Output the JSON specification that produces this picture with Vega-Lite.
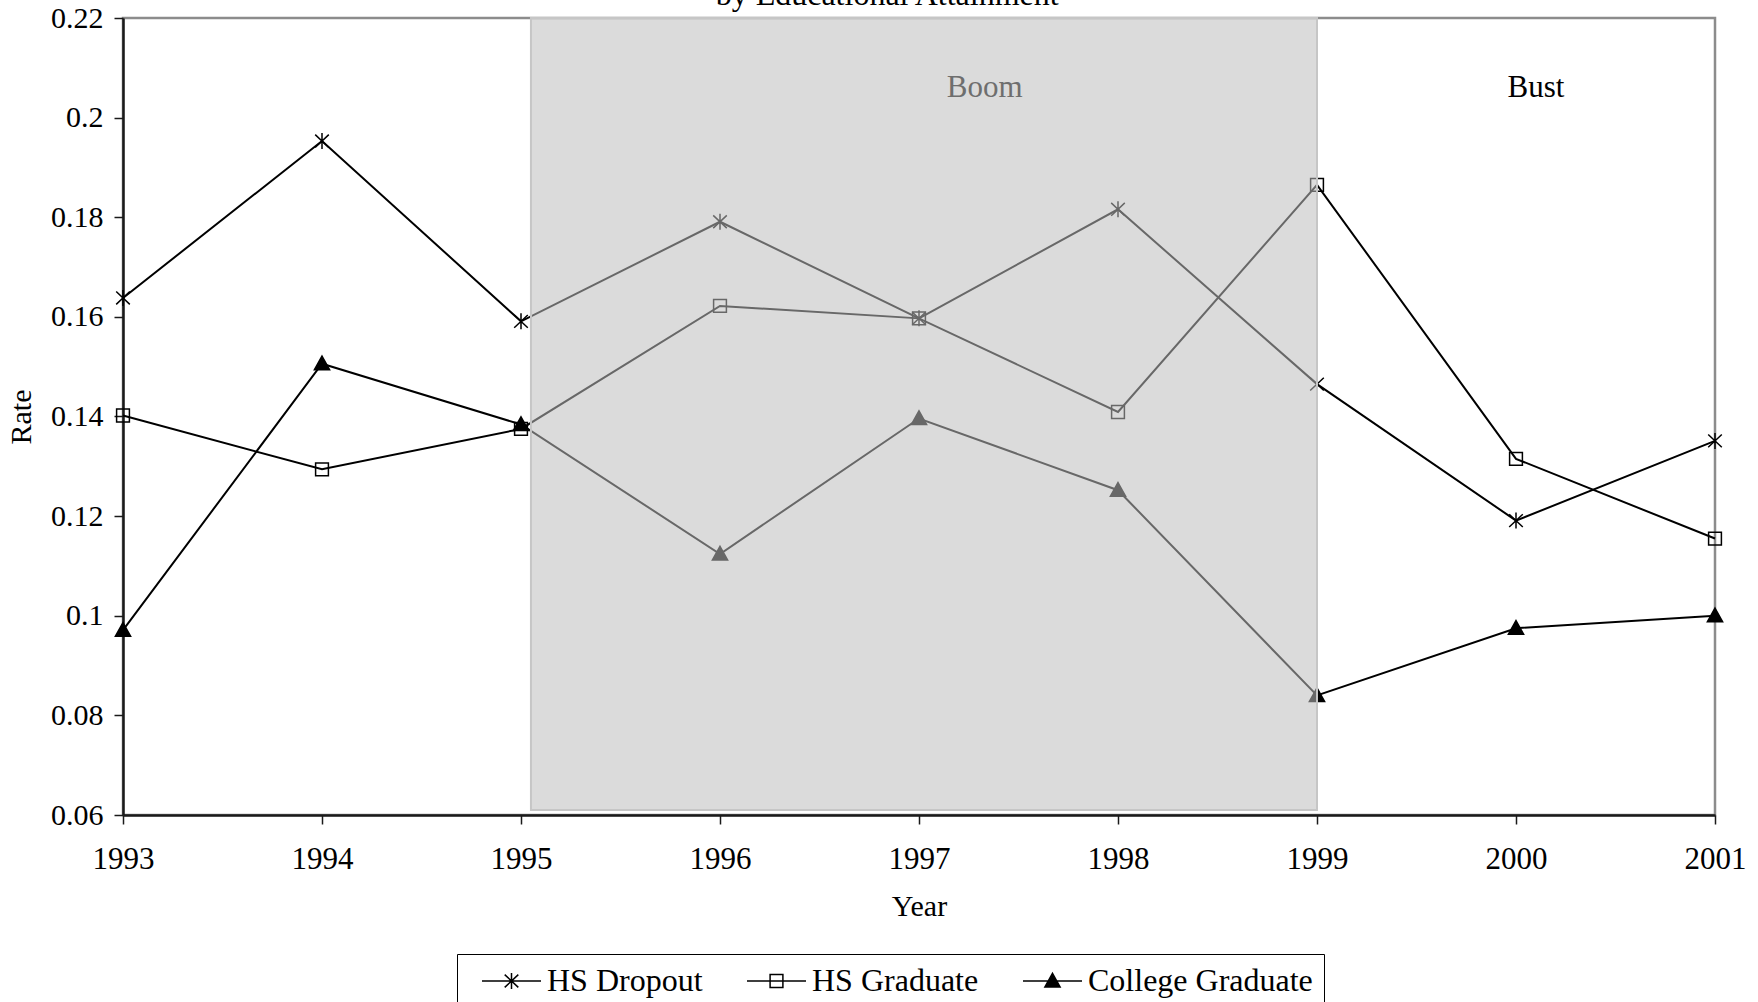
{
  "$schema": "https://vega.github.io/schema/vega-lite/v6.json",
  "width": 1592,
  "height": 797,
  "autosize": {"type": "none"},
  "padding": {"left": 123, "top": 18, "right": 43, "bottom": 187},
  "background": "white",
  "config": {
    "font": "Liberation Serif",
    "view": {"stroke": "#8c8c8c", "strokeWidth": 2.5},
    "axis": {
      "labelFont": "Liberation Serif",
      "titleFont": "Liberation Serif",
      "labelFontSize": 30,
      "titleFontSize": 30,
      "titleFontWeight": "normal",
      "labelColor": "black",
      "titleColor": "black",
      "domainColor": "#1a1a1a",
      "domainWidth": 2.5,
      "tickColor": "#1a1a1a",
      "tickWidth": 1.5,
      "tickSize": 9,
      "grid": false
    }
  },
  "datasets": {
    "rates": [
      {"series": "HS Dropout", "year": 1993, "rate": 0.1638},
      {"series": "HS Dropout", "year": 1994, "rate": 0.1953},
      {"series": "HS Dropout", "year": 1995, "rate": 0.1591},
      {"series": "HS Dropout", "year": 1996, "rate": 0.1791},
      {"series": "HS Dropout", "year": 1997, "rate": 0.1597},
      {"series": "HS Dropout", "year": 1998, "rate": 0.1816},
      {"series": "HS Dropout", "year": 1999, "rate": 0.1465},
      {"series": "HS Dropout", "year": 2000, "rate": 0.1191},
      {"series": "HS Dropout", "year": 2001, "rate": 0.1351},
      {"series": "HS Graduate", "year": 1993, "rate": 0.1402},
      {"series": "HS Graduate", "year": 1994, "rate": 0.1294},
      {"series": "HS Graduate", "year": 1995, "rate": 0.1375},
      {"series": "HS Graduate", "year": 1996, "rate": 0.1622},
      {"series": "HS Graduate", "year": 1997, "rate": 0.1597},
      {"series": "HS Graduate", "year": 1998, "rate": 0.1409},
      {"series": "HS Graduate", "year": 1999, "rate": 0.1865},
      {"series": "HS Graduate", "year": 2000, "rate": 0.1315},
      {"series": "HS Graduate", "year": 2001, "rate": 0.1155},
      {"series": "College Graduate", "year": 1993, "rate": 0.0971},
      {"series": "College Graduate", "year": 1994, "rate": 0.1506},
      {"series": "College Graduate", "year": 1995, "rate": 0.1384},
      {"series": "College Graduate", "year": 1996, "rate": 0.1124},
      {"series": "College Graduate", "year": 1997, "rate": 0.1396},
      {"series": "College Graduate", "year": 1998, "rate": 0.1252},
      {"series": "College Graduate", "year": 1999, "rate": 0.0840},
      {"series": "College Graduate", "year": 2000, "rate": 0.0975},
      {"series": "College Graduate", "year": 2001, "rate": 0.1000}
    ],
    "region": [{"start": 1995.05, "end": 1999, "low": 0.061, "high": 0.22}],
    "notes": [
      {"label": "Boom", "year": 1997.33, "rate": 0.2060},
      {"label": "Bust", "year": 2000.1, "rate": 0.2060},
      {"label": "by Educational Attainment", "year": 1996.84, "rate": 0.2227}
    ]
  },
  "resolve": {"scale": {"shape": "independent"}, "legend": {"shape": "independent"}},
  "layer": [
    {
      "data": {"name": "rates"},
      "mark": {"type": "line", "color": "black", "strokeWidth": 2},
      "encoding": {
        "x": {
          "field": "year", "type": "quantitative",
          "scale": {"domain": [1993, 2001], "nice": false, "zero": false},
          "axis": {"values": [1993, 1994, 1995, 1996, 1997, 1998, 1999, 2000, 2001], "format": "d", "labelFontSize": 31, "labelPadding": 20, "labelFlush": false, "labelOverlap": false, "title": "Year", "titlePadding": 17}
        },
        "y": {
          "field": "rate", "type": "quantitative",
          "scale": {"domain": [0.06, 0.22], "nice": false, "zero": false},
          "axis": {"values": [0.06, 0.08, 0.1, 0.12, 0.14, 0.16, 0.18, 0.2, 0.22], "format": ".2~f", "labelPadding": 11, "labelFlush": false, "labelOverlap": false, "title": "Rate", "titlePadding": 14}
        },
        "detail": {"field": "series", "type": "nominal"}
      }
    },
    {
      "data": {"name": "rates"},
      "mark": {"type": "point", "filled": true, "color": "black", "stroke": "black", "strokeWidth": 1.5, "size": 256, "opacity": 1},
      "encoding": {
        "x": {"field": "year", "type": "quantitative"},
        "y": {"field": "rate", "type": "quantitative"},
        "shape": {
          "field": "series", "type": "nominal",
          "scale": {
            "domain": ["HS Dropout", "HS Graduate", "College Graduate"],
            "range": [
              "M0,-1V1M-0.85,-0.8L0.85,0.8M-0.85,0.8L0.85,-0.8",
              "M-0.8,-0.8H0.8V0.8H-0.8ZM-0.8,-0.8V0.8H0.8V-0.8Z",
              "M0,-0.95L0.95,0.75L-0.95,0.75Z"
            ]
          },
          "legend": null
        }
      }
    },
    {
      "data": {"name": "region"},
      "mark": {"type": "rect", "fill": "#bdbdbd", "fillOpacity": 0.55, "stroke": "#c6c6c6", "strokeWidth": 2},
      "encoding": {
        "x": {"field": "start", "type": "quantitative"},
        "x2": {"field": "end"},
        "y": {"field": "low", "type": "quantitative"},
        "y2": {"field": "high"}
      }
    },
    {
      "data": {"name": "notes"},
      "transform": [{"filter": "datum.label === 'Boom'"}],
      "mark": {"type": "text", "fontSize": 31, "font": "Liberation Serif", "color": "#6e6e6e", "align": "center", "baseline": "middle"},
      "encoding": {
        "x": {"field": "year", "type": "quantitative"},
        "y": {"field": "rate", "type": "quantitative"},
        "text": {"field": "label"}
      }
    },
    {
      "data": {"name": "notes"},
      "transform": [{"filter": "datum.label === 'Bust'"}],
      "mark": {"type": "text", "fontSize": 31, "font": "Liberation Serif", "color": "black", "align": "center", "baseline": "middle"},
      "encoding": {
        "x": {"field": "year", "type": "quantitative"},
        "y": {"field": "rate", "type": "quantitative"},
        "text": {"field": "label"}
      }
    },
    {
      "data": {"name": "notes"},
      "transform": [{"filter": "datum.label === 'by Educational Attainment'"}],
      "mark": {"type": "text", "fontSize": 32, "font": "Liberation Serif", "color": "black", "align": "center", "baseline": "alphabetic", "clip": false},
      "encoding": {
        "x": {"field": "year", "type": "quantitative"},
        "y": {"field": "rate", "type": "quantitative"},
        "text": {"field": "label"}
      }
    },
    {
      "data": {"name": "rates"},
      "mark": {"type": "point", "filled": true, "color": "black", "stroke": "black", "strokeWidth": 1.5, "size": 256, "opacity": 0},
      "encoding": {
        "x": {"field": "year", "type": "quantitative"},
        "y": {"field": "rate", "type": "quantitative"},
        "shape": {
          "field": "series", "type": "nominal",
          "scale": {
            "domain": ["HS Dropout", "HS Graduate", "College Graduate"],
            "range": [
              "M-0.25,0H7.125M3.4375,-1V1M2.5875,-0.8L4.2875,0.8M2.5875,0.8L4.2875,-0.8",
              "M-0.25,0H7.125M2.6375,-0.8H4.2375V0.8H2.6375ZM2.6375,-0.8V0.8H4.2375V-0.8Z",
              "M-0.25,0H7.125M3.4375,-0.95L4.3875,0.75L2.4875,0.75Z"
            ]
          },
          "legend": {
            "orient": "none",
            "legendX": 334,
            "legendY": 936,
            "direction": "horizontal",
            "title": null,
            "symbolSize": 256,
            "symbolStrokeWidth": 1.5,
            "symbolOpacity": 1,
            "labelFont": "Liberation Serif",
            "labelFontSize": 32,
            "labelColor": "black",
            "labelOffset": 47,
            "labelLimit": 400,
            "columnPadding": 30,
            "padding": 11,
            "strokeColor": "black",
            "fillColor": "white"
          }
        }
      }
    }
  ]
}
